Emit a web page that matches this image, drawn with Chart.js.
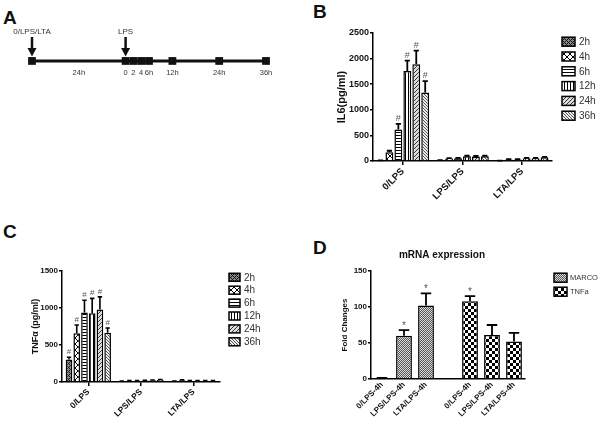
<!DOCTYPE html>
<html>
<head>
<meta charset="utf-8">
<script src="https://cdn.jsdelivr.net/npm/chart.js@4.4.1/dist/chart.umd.min.js"></script>
<style>
body { margin: 0; background: #fff; }
#wrap { position: relative; width: 601px; height: 428px; overflow: hidden; }
canvas { position: absolute; }
.letter { position: absolute; font: bold 19px "Liberation Sans", Arial, sans-serif; line-height: 19px; color: #111; }
</style>
</head>
<body>
<div id="wrap">
  <div class="letter" style="left:3px;top:8px">A</div>
  <div class="letter" style="left:313px;top:2px">B</div>
  <div class="letter" style="left:3px;top:222px">C</div>
  <div class="letter" style="left:313px;top:238px">D</div>
  <canvas id="chartA" width="300" height="100" style="left:0;top:0"></canvas>
  <canvas id="chartB" width="271" height="215" style="left:330px;top:0"></canvas>
  <canvas id="chartC" width="300" height="213" style="left:0;top:215px"></canvas>
  <canvas id="chartD" width="271" height="203" style="left:330px;top:225px"></canvas>
</div>
<script>
// ---- data ----
// A: time line (hours, relative to the LPS challenge)
const timeMarks = [-24, 0, 2, 4, 6, 12, 24, 36];
const timeTickAt = [-12, 0, 2, 4, 6, 12, 24, 36];
const timeTickText = ['24h', '0', '2', '4', '6h', '12h', '24h', '36h'];
const arrowAt = [-24, 0];
const arrowText = ['0/LPS/LTA', 'LPS'];

// B and C: one row per time point, columns = groups
const groups = ['0/LPS', 'LPS/LPS', 'LTA/LPS'];
const hours = ['2h', '4h', '6h', '12h', '24h', '36h'];

const il6Mean = [
  [10, 15, 5],
  [170, 50, 30],
  [615, 55, 30],
  [1760, 95, 55],
  [1890, 90, 55],
  [1340, 95, 75]
];
const il6Err = [
  [3, 3, 2],
  [30, 6, 4],
  [110, 6, 4],
  [200, 8, 5],
  [265, 8, 5],
  [220, 8, 6]
];
const il6Sig = ['', '', '#', '#', '#', '#'];

const tnfMean = [
  [305, 10, 10],
  [660, 15, 25],
  [940, 15, 15],
  [930, 20, 15],
  [980, 25, 15],
  [665, 30, 15]
];
const tnfErr = [
  [30, 3, 3],
  [110, 3, 4],
  [165, 3, 3],
  [200, 3, 3],
  [170, 3, 3],
  [65, 4, 3]
];
const tnfSig = ['#', '#', '#', '#', '#', '#'];

// D: mRNA fold changes
const mrnaLabels = ['0/LPS-4h', 'LPS/LPS-4h', 'LTA/LPS-4h', '', '0/LPS-4h', 'LPS/LPS-4h', 'LTA/LPS-4h'];
const marcoFold = [1, 60, 102];
const marcoErr = [0.5, 8, 17];
const marcoSig = ['', '*', '*'];
const tnfFold = [108, 61, 52];
const tnfFoldErr = [7, 14, 12];
const tnfFoldSig = ['*', '', ''];

// ---- look ----
const F = '"Liberation Sans", Arial, sans-serif';
Chart.defaults.font.family = F;
Chart.defaults.color = '#111';

function tile(size, bg, fg, on) {
  const c = document.createElement('canvas');
  c.width = c.height = size;
  const g = c.getContext('2d');
  g.fillStyle = bg;
  g.fillRect(0, 0, size, size);
  g.fillStyle = fg;
  for (let i = 0; i < size; i++)
    for (let j = 0; j < size; j++)
      if (on(i, j)) g.fillRect(i, j, 1, 1);
  return g.createPattern(c, 'repeat');
}

const hourPatterns = [
  tile(4, '#888', '#111', (i, j) => (i + j) % 4 == 0 || (i - j + 4) % 4 == 0),
  tile(6, '#fff', '#000', (i, j) => i == j || i + j == 5),
  tile(3, '#fff', '#000', (i, j) => j == 0),
  tile(3, '#fff', '#000', (i, j) => i == 0),
  tile(4, '#ddd', '#333', (i, j) => (i + j) % 4 == 0),
  tile(3, '#eee', '#555', (i, j) => (i - j + 3) % 3 == 0)
];
const marcoPattern = tile(2, '#ddd', '#555', (i, j) => (i + j) % 2 == 0);
const tnfPattern = tile(6, '#fff', '#000', (i, j) => (Math.floor(i / 3) + Math.floor(j / 3)) % 2 == 0);

// error bars (upward only) + significance marks
const errorBars = {
  id: 'errorBars',
  afterDatasetsDraw(chart, args, o) {
    const ctx = chart.ctx, y = chart.scales.y;
    ctx.save();
    ctx.strokeStyle = '#000';
    ctx.lineWidth = o.lineWidth || 1.8;
    ctx.textAlign = 'center';
    ctx.textBaseline = 'alphabetic';
    ctx.font = (o.markSize || 9) + 'px ' + F;
    chart.data.datasets.forEach((ds, i) => {
      chart.getDatasetMeta(i).data.forEach((bar, j) => {
        const v = ds.data[j];
        if (v == null) return;
        const top = y.getPixelForValue(v + (ds.err[j] || 0));
        const half = bar.width * 0.33;
        ctx.beginPath();
        ctx.moveTo(bar.x, bar.y);
        ctx.lineTo(bar.x, top);
        ctx.moveTo(bar.x - half, top);
        ctx.lineTo(bar.x + half, top);
        ctx.stroke();
        if (ds.marks && ds.marks[j]) {
          ctx.fillStyle = '#555';
          ctx.fillText(ds.marks[j], bar.x, top - (o.markGap || 3));
        }
      });
    });
    ctx.restore();
  }
};

const boxLegend = {
  id: 'boxLegend',
  afterDraw(chart, args, o) {
    const ctx = chart.ctx;
    ctx.save();
    ctx.font = o.size + 'px ' + F;
    ctx.textBaseline = 'middle';
    chart.data.datasets.forEach((ds, i) => {
      const yy = o.y + i * o.step;
      ctx.fillStyle = ds.backgroundColor;
      ctx.fillRect(o.x, yy - o.h / 2, o.w, o.h);
      ctx.strokeStyle = '#000';
      ctx.lineWidth = 1.5;
      ctx.strokeRect(o.x, yy - o.h / 2, o.w, o.h);
      ctx.fillStyle = '#333';
      ctx.fillText(ds.label, o.x + o.w + (o.gap || 4), yy + 0.5);
    });
    if (o.title) {
      ctx.font = 'bold ' + o.title.size + 'px ' + F;
      ctx.fillStyle = '#111';
      ctx.textAlign = 'center';
      ctx.fillText(o.title.text, o.title.x, o.title.y);
    }
    ctx.restore();
  }
};

function axes(o) {
  return {
    x: {
      offset: true,
      grid: { display: true, drawOnChartArea: false, offset: false, drawTicks: o.xTicks, tickLength: 4, color: '#000', lineWidth: 1.5 },
      border: { color: '#000', width: 1.5 },
      ticks: { autoSkip: false, maxRotation: 45, minRotation: 45, padding: 1, color: '#111', font: { size: o.xFont, weight: 'bold' } },
      afterFit(s) { s.height = o.xH; }
    },
    y: {
      min: 0, max: o.max,
      grid: { display: true, drawOnChartArea: false, drawTicks: true, tickLength: 3, color: '#000', lineWidth: 1.5 },
      border: { color: '#000', width: 1.5 },
      ticks: { stepSize: o.step, padding: 1, color: '#111', font: { size: o.yFont, weight: 'bold' }, callback: v => String(v) },
      title: { display: true, text: o.title, color: '#111', font: { size: o.titleSize, weight: 'bold' }, padding: { top: o.titlePad, bottom: 0 } },
      afterFit(s) { s.width = o.yW; }
    }
  };
}

function hourSets(mean, err, sig) {
  return hours.map((h, i) => ({
    label: h,
    data: mean[i],
    err: err[i],
    marks: [sig[i], '', ''],
    backgroundColor: hourPatterns[i],
    borderColor: '#000',
    borderWidth: 1.5
  }));
}

// ---- A: timeline ----
new Chart(document.getElementById('chartA'), {
  type: 'line',
  data: {
    datasets: [{
      data: timeMarks.map(t => ({ x: t, y: 0 })),
      borderColor: '#111',
      borderWidth: 3,
      pointStyle: 'rect',
      pointRadius: 5.5,
      pointBackgroundColor: '#111',
      pointBorderWidth: 0,
      clip: false
    }]
  },
  options: {
    responsive: false, animation: false, events: [],
    layout: { padding: { left: 32, right: 34, top: 20, bottom: 23 } },
    plugins: { legend: { display: false }, tooltip: { enabled: false } },
    scales: {
      x: {
        type: 'linear', min: -24, max: 36,
        grid: { display: false, drawTicks: false },
        border: { display: false },
        afterBuildTicks(s) { s.ticks = timeTickAt.map(v => ({ value: v })); },
        afterFit(s) { s.height = 14; },
        ticks: { autoSkip: false, maxRotation: 0, padding: 5, color: '#333', font: { size: 7.5 }, callback: (v, i) => timeTickText[i] }
      },
      y: { display: false, min: -0.05, max: 1 }
    }
  },
  plugins: [{
    id: 'arrows',
    afterDraw(chart) {
      const ctx = chart.ctx, x = chart.scales.x;
      ctx.save();
      ctx.strokeStyle = '#111';
      ctx.font = '8px ' + F;
      ctx.textAlign = 'center';
      arrowAt.forEach((t, i) => {
        const px = x.getPixelForValue(t);
        ctx.fillStyle = '#111';
        ctx.lineWidth = 2.5;
        ctx.beginPath();
        ctx.moveTo(px, 37);
        ctx.lineTo(px, 50);
        ctx.stroke();
        ctx.beginPath();
        ctx.moveTo(px - 4.5, 48);
        ctx.lineTo(px + 4.5, 48);
        ctx.lineTo(px, 56.5);
        ctx.closePath();
        ctx.fill();
        ctx.fillStyle = '#333';
        ctx.fillText(arrowText[i], px, 34);
      });
      ctx.restore();
    }
  }]
});

// ---- B: IL6 ----
new Chart(document.getElementById('chartB'), {
  type: 'bar',
  data: { labels: groups, datasets: hourSets(il6Mean, il6Err, il6Sig) },
  options: {
    responsive: false, animation: false, events: [],
    layout: { padding: { left: 0, top: 33, right: 49, bottom: 0 } },
    datasets: { bar: { categoryPercentage: 0.9, barPercentage: 0.88 } },
    plugins: {
      legend: { display: false }, tooltip: { enabled: false },
      errorBars: { lineWidth: 1.8, markSize: 9, markGap: 3 },
      boxLegend: { x: 232, y: 41.7, step: 14.8, w: 13, h: 9, size: 10 }
    },
    scales: axes({ max: 2500, step: 500, xH: 54, yW: 43, xFont: 9.5, yFont: 9, xTicks: true, title: 'IL6(pg/ml)', titleSize: 11, titlePad: 5 })
  },
  plugins: [errorBars, boxLegend]
});

// ---- C: TNFa ----
new Chart(document.getElementById('chartC'), {
  type: 'bar',
  data: { labels: groups, datasets: hourSets(tnfMean, tnfErr, tnfSig) },
  options: {
    responsive: false, animation: false, events: [],
    layout: { padding: { left: 0, top: 56, right: 80, bottom: 0 } },
    datasets: { bar: { categoryPercentage: 0.88, barPercentage: 0.86 } },
    plugins: {
      legend: { display: false }, tooltip: { enabled: false },
      errorBars: { lineWidth: 1.6, markSize: 8, markGap: 3 },
      boxLegend: { x: 229, y: 62.3, step: 12.9, w: 11, h: 8, size: 10 }
    },
    scales: axes({ max: 1500, step: 500, xH: 46, yW: 62, xFont: 8.5, yFont: 8, xTicks: true, title: 'TNF\u03b1 (pg/ml)', titleSize: 9, titlePad: 30 })
  },
  plugins: [errorBars, boxLegend]
});

// ---- D: mRNA expression ----
new Chart(document.getElementById('chartD'), {
  type: 'bar',
  data: {
    labels: mrnaLabels,
    datasets: [{
      label: 'MARCO',
      data: marcoFold.concat([null, null, null, null]),
      err: marcoErr.concat([0, 0, 0, 0]),
      marks: marcoSig.concat(['', '', '', '']),
      backgroundColor: marcoPattern,
      borderColor: '#000',
      borderWidth: 1.5
    }, {
      label: 'TNFa',
      data: [null, null, null, null].concat(tnfFold),
      err: [0, 0, 0, 0].concat(tnfFoldErr),
      marks: ['', '', '', ''].concat(tnfFoldSig),
      backgroundColor: tnfPattern,
      borderColor: '#000',
      borderWidth: 1.5
    }]
  },
  options: {
    responsive: false, animation: false, events: [],
    layout: { padding: { left: 0, top: 46, right: 76, bottom: 0 } },
    datasets: { bar: { skipNull: true, categoryPercentage: 1, barPercentage: 0.72 } },
    plugins: {
      legend: { display: false }, tooltip: { enabled: false },
      errorBars: { lineWidth: 1.8, markSize: 10, markGap: 1 },
      boxLegend: { x: 224, y: 52.7, step: 14, w: 13, h: 9, size: 7.5, gap: 3,
        title: { text: 'mRNA expression', size: 10, x: 112, y: 30 } }
    },
    scales: axes({ max: 150, step: 50, xH: 49, yW: 41, xFont: 8, yFont: 8, xTicks: false, title: 'Fold Changes', titleSize: 8, titlePad: 10 })
  },
  plugins: [errorBars, boxLegend]
});
</script>
</body>
</html>
